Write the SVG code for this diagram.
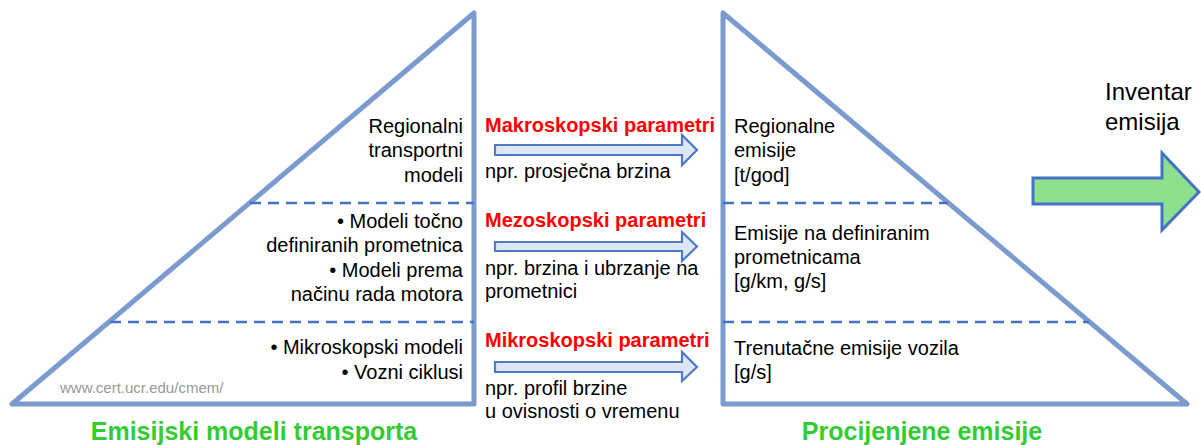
<svg xmlns="http://www.w3.org/2000/svg" width="1201" height="445" viewBox="0 0 1201 445">
<style>
.tri{fill:none;stroke:#7b9bcf;stroke-width:5;stroke-linejoin:round;stroke-linecap:round}
.dash{stroke:#4472c4;stroke-width:2.5;stroke-dasharray:11 7;fill:none}
.barrow{fill:#dce6f4;stroke:#4f7bc4;stroke-width:2.2;stroke-linejoin:miter}
.garrow{fill:#8ee08e;stroke:#4472c4;stroke-width:3;stroke-linejoin:miter}
text{font-family:"Liberation Sans",Arial,sans-serif}
.t{font-size:20px;fill:#000}
.r{text-anchor:end}
.red{font-size:20px;font-weight:bold;fill:#ff0000}
.title{font-size:25px;font-weight:bold;fill:#33cc33;text-anchor:middle}
.url{font-size:15px;fill:#999}
.inv{font-size:24px;fill:#000}
</style>
<rect width="1201" height="445" fill="#fff"/>
<g id="left-pyramid">
<polygon class="tri" points="12,404 474,13 474,404"/>
<line class="dash" x1="250" y1="203" x2="474" y2="203"/>
<line class="dash" x1="110" y1="322" x2="474" y2="322"/>
<text class="t r" x="463" y="133">Regionalni</text>
<text class="t r" x="463" y="157">transportni</text>
<text class="t r" x="463" y="182">modeli</text>
<text class="t r" x="463" y="228">• Modeli točno</text>
<text class="t r" x="463" y="252">definiranih prometnica</text>
<text class="t r" x="463" y="277">• Modeli prema</text>
<text class="t r" x="463" y="301">načinu rada motora</text>
<text class="t r" x="463" y="354">• Mikroskopski modeli</text>
<text class="t r" x="463" y="379">• Vozni ciklusi</text>
<text class="url" x="60" y="393">www.cert.ucr.edu/cmem/</text>
<text class="title" x="254" y="440">Emisijski modeli transporta</text>
</g>
<g id="right-pyramid">
<polygon class="tri" points="723,13 723,404 1187,404"/>
<line class="dash" x1="723" y1="203" x2="948" y2="203"/>
<line class="dash" x1="723" y1="322" x2="1089" y2="322"/>
<text class="t" x="734" y="133">Regionalne</text>
<text class="t" x="734" y="157">emisije</text>
<text class="t" x="734" y="182">[t/god]</text>
<text class="t" x="734" y="240">Emisije na definiranim</text>
<text class="t" x="734" y="264">prometnicama</text>
<text class="t" x="734" y="288">[g/km, g/s]</text>
<text class="t" x="734" y="355">Trenutačne emisije vozila</text>
<text class="t" x="734" y="379">[g/s]</text>
<text class="title" x="922" y="440">Procijenjene emisije</text>
</g>
<g id="inventory">
<text class="inv" x="1105" y="100">Inventar</text>
<text class="inv" x="1105" y="130">emisija</text>
</g>
<g id="params-macro">
<text class="red" x="485" y="132">Makroskopski parametri</text>
<text class="t" x="485" y="178">npr. prosječna brzina</text>
</g>
<g id="params-meso">
<text class="red" x="485" y="227">Mezoskopski parametri</text>
<text class="t" x="485" y="275">npr. brzina i ubrzanje na</text>
<text class="t" x="485" y="298">prometnici</text>
</g>
<g id="params-micro">
<text class="red" x="485" y="347">Mikroskopski parametri</text>
<text class="t" x="485" y="395">npr. profil brzine</text>
<text class="t" x="485" y="418">u ovisnosti o vremenu</text>
</g>
<g id="connectors">
<polygon class="barrow" points="495,145 682,145 682,135 697,150 682,165 682,155 495,155"/>
<polygon class="barrow" points="495,242 682,242 682,232 697,246.5 682,261 682,251 495,251"/>
<polygon class="barrow" points="495,362 682,362 682,352 697,367 682,381 682,372 495,372"/>
<polygon class="garrow" points="1033,178 1162,178 1162,153 1199,192 1162,230 1162,204 1033,204"/>
</g>
</svg>
